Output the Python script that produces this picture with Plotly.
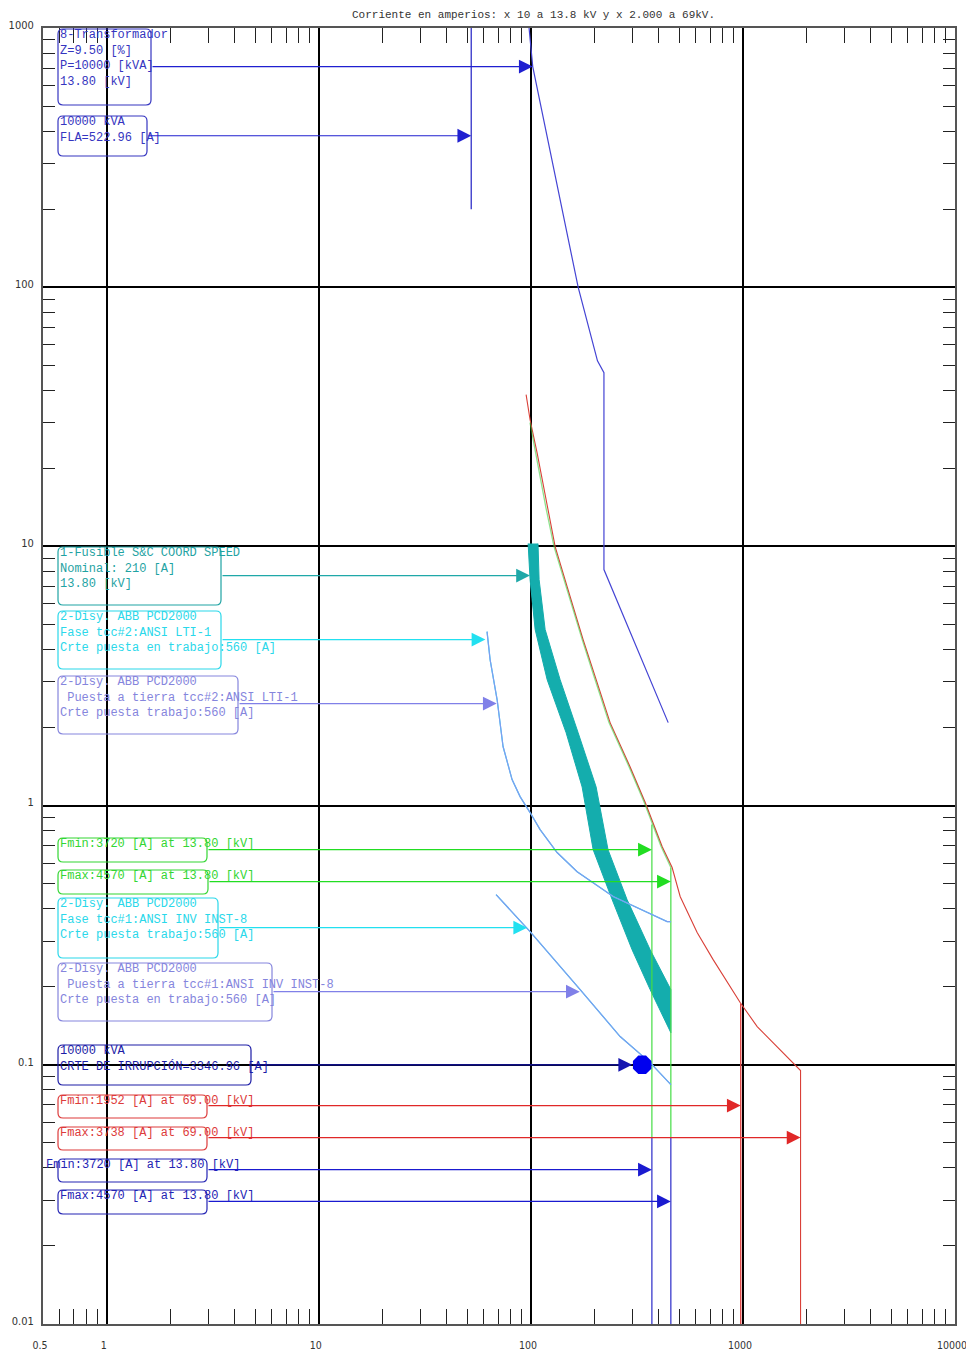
import math
import plotly.graph_objects as go

# ---------------- axis definitions ----------------
x_tick_vals = [0.5, 1, 10, 100, 1000, 10000]
x_tick_text = ["0.5", "1", "10", "100", "1000", "10000"]
y_tick_vals = [0.01, 0.1, 1, 10, 100, 1000]
y_tick_text = ["0.01", "0.1", "1", "10", "100", "1000"]

# ---------------- curves (current A x10 @13.8kV, time s) ----------------
xfmr_damage_i = [98, 102, 167, 206, 221, 221, 444]
xfmr_damage_t = [1000, 710, 100, 52, 46.8, 8.14, 2.09]

xfmr_fla_i = [52.3, 52.3]
xfmr_fla_t = [1000, 200]

fuse_mm_i = [97, 99.1, 104.7, 119.3, 146.6, 174.4, 196.6, 241.6, 300, 365, 457]
fuse_mm_t = [10.25, 7.45, 4.78, 3.06, 1.91, 1.18, 0.676, 0.434, 0.278, 0.195, 0.133]
fuse_tc_i = [108, 109.3, 116.7, 137.3, 167, 203, 231, 284, 365, 457, 457]
fuse_tc_t = [10.25, 7.45, 4.78, 3.06, 1.91, 1.18, 0.676, 0.434, 0.278, 0.195, 0.133]

red_i = [94.9, 99.1, 106.9, 119.3, 130.1, 148.2, 176.3, 200.8, 236.3, 293.8, 345.7,
         415.7, 463.4, 505.6, 608, 723.5, 970, 1167, 1498, 1725, 1869, 1869]
red_t = [38.5, 30.8, 23.0, 14.2, 9.98, 7.0, 4.37, 3.15, 2.09, 1.41, 1.03,
         0.695, 0.577, 0.446, 0.324, 0.2545, 0.174, 0.1404, 0.1144, 0.102, 0.095, 0.01]
red_fmin_i = [976, 976]
red_fmin_t = [0.172, 0.01]

green_i = [99, 105, 117.5, 128.5, 146.5, 174.5, 198.5, 233.5, 290.5, 342, 372, 411, 457]
green_t = [30.0, 23.0, 14.2, 9.98, 7.0, 4.37, 3.15, 2.09, 1.41, 1.03, 0.86, 0.695, 0.577]
green_fmin_i = [372, 372]
green_fmin_t = [0.845, 0.0524]
green_fmax_i = [457, 457]
green_fmax_t = [0.577, 0.0524]
blue_fmin_i = [372, 372]
blue_fmin_t = [0.0524, 0.01]
blue_fmax_i = [457, 457]
blue_fmax_t = [0.0524, 0.01]

lti_i = [62.1, 64.2, 69.3, 73.9, 81.5, 88.9, 99.1, 110.5, 132.9, 165.2, 244.2, 353.3, 438.9, 457]
lti_t = [4.69, 3.66, 2.56, 1.69, 1.26, 1.083, 0.940, 0.808, 0.659, 0.556, 0.446, 0.387, 0.357, 0.357]

inst_i = [68.5, 99.1, 170.7, 263.5, 365, 457]
inst_t = [0.4536, 0.3265, 0.195, 0.1285, 0.102, 0.0839]

inrush_i = [334.7]
inrush_t = [0.1]

# ---------------- labels ----------------
label_texts = [
    ["8-Transformador", "Z=9.50 [%]", "P=10000 [kVA]", "13.80 [kV]"],
    ["10000 kVA", "FLA=522.96 [A]"],
    ["1-Fusible S&C COORD SPEED", "Nominal: 210 [A]", "13.80 [kV]"],
    ["2-Disy. ABB PCD2000", "Fase tcc#2:ANSI LTI-1", "Crte puesta en trabajo:560 [A]"],
    ["2-Disy. ABB PCD2000", " Puesta a tierra tcc#2:ANSI LTI-1", "Crte puesta trabajo:560 [A]"],
    ["Fmin:3720 [A] at 13.80 [kV]"],
    ["Fmax:4570 [A] at 13.80 [kV]"],
    ["2-Disy. ABB PCD2000", "Fase tcc#1:ANSI INV INST-8", "Crte puesta trabajo:560 [A]"],
    ["2-Disy. ABB PCD2000", " Puesta a tierra tcc#1:ANSI INV INST-8", "Crte puesta en trabajo:560 [A]"],
    ["10000 kVA", "CRTE DE IRRUPCIÓN=3346.96 [A]"],
    ["Fmin:1952 [A] at 69.00 [kV]"],
    ["Fmax:3738 [A] at 69.00 [kV]"],
    ["Fmin:3720 [A] at 13.80 [kV]"],
    ["Fmax:4570 [A] at 13.80 [kV]"],
]
label_colors = ["#3535c0", "#3535c0", "#1fa3a3", "#2ad8ea", "#8585dd", "#33d633", "#33d633",
                "#2ad8ea", "#8585dd", "#1c1ca6", "#dd3b3b", "#dd3b3b", "#2424b4", "#2424b4"]
arrow_colors = ["#2020d0", "#2020d0", "#1fa8a8", "#22e0f0", "#8080e8", "#22dd22", "#22dd22",
                "#22e0f0", "#8080e8", "#1515b0", "#e02828", "#e02828", "#1a1ad0", "#1a1ad0"]
# box geometry in page pixels: left, top, right, bottom
label_boxes = [(58, 29, 151, 105), (58, 116, 147, 156), (58, 547, 221, 605), (58, 611, 221, 669),
               (58, 676, 238, 734), (58, 838, 207, 862), (58, 870, 208, 894), (58, 898, 218, 958),
               (58, 963, 272, 1021), (58, 1045, 251, 1085), (58, 1095, 207, 1118),
               (58, 1127, 207, 1150), (58, 1159, 207, 1182), (58, 1190, 207, 1214)]
text_left = [60, 60, 60, 60, 60, 60, 60, 60, 60, 60, 60, 60, 46, 60]
arrow_i = [102, 52.3, 99, 61, 69, 372, 457, 96, 170, 334.7, 976, 1869, 372, 457]
arrow_t = [710, 384, 7.72, 4.37, 2.475, 0.676, 0.509, 0.338, 0.1915, 0.1, 0.0696, 0.0524, 0.0394, 0.0297]
arrow_standoff = [0, 0, 0, 0, 0, 0, 0, 0, 0, 10, 0, 0, 0, 0]

# ---------------- geometry helpers ----------------
BODY = 8                      # default page body margin
W, H = 974 - BODY, 1352 - BODY
PL, PT, PW, PH = 43, 28, 912, 1296   # plot area in page pixels
XR = [math.log10(0.5), 4.0]
YR = [-2.0, 3.0]


def px2paper_x(px):
    return (px - PL) / PW


def py2paper_y(py):
    return (PT + PH - py) / PH


def px2logx(px):
    return XR[0] + px2paper_x(px) * (XR[1] - XR[0])


def rrect_path(x0, y0, x1, y1, r=5):
    def P(x, y):
        return f"{px2paper_x(x):.5f},{py2paper_y(y):.5f}"
    return (f"M{P(x0 + r, y0)} L{P(x1 - r, y0)} Q{P(x1, y0)} {P(x1, y0 + r)} "
            f"L{P(x1, y1 - r)} Q{P(x1, y1)} {P(x1 - r, y1)} L{P(x0 + r, y1)} "
            f"Q{P(x0, y1)} {P(x0, y1 - r)} L{P(x0, y0 + r)} Q{P(x0, y0)} {P(x0 + r, y0)} Z")


fig = go.Figure()


def line(x, y, color, width=1.2, opacity=1.0):
    fig.add_trace(go.Scatter(x=x, y=y, mode="lines", line=dict(color=color, width=width),
                             opacity=opacity, hoverinfo="skip", showlegend=False))


# fuse band
fig.add_trace(go.Scatter(x=fuse_mm_i + fuse_tc_i[::-1], y=fuse_mm_t + fuse_tc_t[::-1],
                         mode="lines", fill="toself", fillcolor="#14adad",
                         line=dict(color="#14adad", width=1), hoverinfo="skip", showlegend=False))

line(xfmr_damage_i, xfmr_damage_t, "#4444d4", 1.2)
line(xfmr_fla_i, xfmr_fla_t, "#3030c8", 1.3)
line(green_fmin_i, green_fmin_t, "#44dd44", 1.2)
line(green_fmax_i, green_fmax_t, "#44dd44", 1.2)
line(blue_fmin_i, blue_fmin_t, "#2a2ac8", 1.2)
line(blue_fmax_i, blue_fmax_t, "#2a2ac8", 1.2)
line(red_i, red_t, "#d94038", 1.1)
line(green_i, green_t, "#33cc33", 1.3, 0.55)
line(red_fmin_i, red_fmin_t, "#e04848", 1.4)
line(lti_i, lti_t, "#33e0f0", 1.2)
line(lti_i, lti_t, "#7f9cf0", 1.2)
line(inst_i, inst_t, "#33e0f0", 1.2)
line(inst_i, inst_t, "#7f9cf0", 1.2)

fig.add_trace(go.Scatter(x=inrush_i, y=inrush_t, mode="markers",
                         marker=dict(symbol="octagon", size=20, color="#0000ee"),
                         hoverinfo="skip", showlegend=False))

shapes = []
annotations = []
FONT = "Liberation Mono"
for k, lines_ in enumerate(label_texts):
    x0, y0, x1, y1 = label_boxes[k]
    shapes.append(dict(type="path", path=rrect_path(x0, y0, x1, y1), xref="paper", yref="paper",
                       line=dict(color=label_colors[k], width=1.2), fillcolor="rgba(0,0,0,0)", layer="above"))
    annotations.append(dict(xref="paper", yref="paper", x=px2paper_x(text_left[k] - 2),
                            y=py2paper_y(y0 - 3), xanchor="left", yanchor="top", align="left",
                            text="<br>".join(lines_), showarrow=False,
                            font=dict(family=FONT, size=12, color=label_colors[k])))
    annotations.append(dict(xref="x", yref="y", x=math.log10(arrow_i[k]), y=math.log10(arrow_t[k]),
                            axref="x", ayref="y", ax=px2logx(x1), ay=math.log10(arrow_t[k]),
                            text="", showarrow=True, arrowhead=2, arrowsize=2.3, arrowwidth=1.2,
                            arrowcolor=arrow_colors[k], standoff=arrow_standoff[k]))

annotations.append(dict(xref="paper", yref="paper", x=px2paper_x(533), y=py2paper_y(15),
                        xanchor="center", yanchor="middle", showarrow=False,
                        text="Corriente en amperios: x 10 a 13.8 kV y x 2.000 a 69kV.",
                        font=dict(family=FONT, size=11, color="#333333")))

x_minor = [m * 10 ** d for d in range(-1, 4) for m in range(2, 10) if 0.5 < m * 10 ** d < 10000]
y_minor = [m * 10 ** d for d in range(-2, 3) for m in range(2, 10)]

axis_common = dict(type="log", showgrid=True, gridcolor="black", gridwidth=1.5,
                   showline=True, linecolor="#555555", linewidth=2, mirror="allticks",
                   ticks="", zeroline=False, automargin=False)

fig.update_layout(
    width=W, height=H,
    margin=dict(l=PL - BODY, r=W - (PL - BODY) - PW, t=PT - BODY, b=H - (PT - BODY) - PH,
                autoexpand=False),
    paper_bgcolor="white", plot_bgcolor="white",
    xaxis=dict(range=XR, tickvals=x_tick_vals, ticktext=x_tick_text, ticklabelstandoff=10,
               ticklabelshift=-3,
               tickfont=dict(family="DejaVu Sans Condensed", size=10.5, color="#333333"),
               minor=dict(tickvals=x_minor, ticks="inside", ticklen=15, tickcolor="#222222",
                          tickwidth=1.2, showgrid=False),
               **axis_common),
    yaxis=dict(range=YR, tickvals=y_tick_vals, ticktext=y_tick_text, ticklabelstandoff=5,
               ticklabelshift=-3,
               tickfont=dict(family="DejaVu Sans Condensed", size=11, color="#333333"),
               minor=dict(tickvals=y_minor, ticks="inside", ticklen=12, tickcolor="#222222",
                          tickwidth=1.2, showgrid=False),
               **axis_common),
    shapes=shapes,
    annotations=annotations,
    showlegend=False,
)

fig.write_html("out.html")
